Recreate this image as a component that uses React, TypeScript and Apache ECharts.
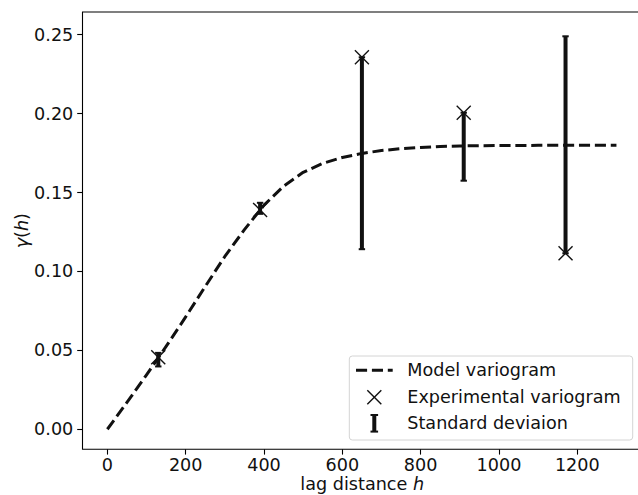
import React, { useEffect, useRef } from "react";
import * as echarts from "echarts";

const modelLag = [0, 50, 100, 150, 200, 250, 300, 350, 400, 450, 500, 550, 600, 650, 700, 750, 800, 850, 900, 950, 1000, 1100, 1200, 1300];
const modelGamma = [0, 0.017, 0.0345, 0.0525, 0.0712, 0.0905, 0.1095, 0.1265, 0.142, 0.154, 0.1628, 0.1685, 0.1722, 0.1748, 0.1766, 0.1778, 0.1786, 0.1792, 0.1795, 0.1797, 0.1798, 0.1799, 0.18, 0.18];

const expLag = [130, 390, 650, 910, 1170];
const expGamma = [0.0456, 0.139, 0.2357, 0.2006, 0.1115];
const stdLow = [0.0398, 0.1365, 0.1141, 0.1575, 0.1115];
const stdHigh = [0.0484, 0.1435, 0.2357, 0.2006, 0.249];

const xTicks = [0, 200, 400, 600, 800, 1000, 1200];
const yTicks = [0, 0.05, 0.1, 0.15, 0.2, 0.25];

const FONT = "DejaVu Sans";
const INK = "#111";
const FS = 17.6;

export default function App() {
  const ref = useRef<HTMLDivElement>(null);
  useEffect(() => {
    if (!ref.current) return;
    const chart = echarts.init(ref.current, undefined, { renderer: "svg" });
    const modelData = modelLag.map((h, i) => [h, modelGamma[i]]);
    const expData = expLag.map((h, i) => [h, expGamma[i]]);
    const errData = expLag.map((h, i) => [h, stdLow[i], stdHigh[i]]);

    const lx = 349.3, ly = 356, lw = 283.4, lh = 84;
    const iconX = 374.3;
    const textX = 407.3;
    const rows = [370.3, 397.3, 423.3];

    chart.setOption({
      animation: false,
      grid: {
        left: 82.5,
        top: 12,
        right: -3.9,
        bottom: 45.7,
        containLabel: false,
        outerBoundsMode: "none",
        show: true,
        borderColor: "#000",
        borderWidth: 1.1,
        backgroundColor: "transparent",
      },
      xAxis: {
        type: "value",
        min: -63.5,
        max: 1365,
        axisLine: { show: false, onZero: false },
        splitLine: { show: false },
        axisTick: { show: true, customValues: xTicks, length: 5.3, lineStyle: { color: "#000", width: 1.1 } },
        axisLabel: {
          customValues: xTicks,
          fontFamily: FONT,
          fontSize: FS,
          color: INK,
          margin: 7,
          formatter: (v: number) => String(v),
        },
        name: "lag distance {i|h}",
        nameLocation: "middle",
        nameGap: 26,
        nameMoveOverlap: false,
        nameTextStyle: {
          fontFamily: FONT,
          fontSize: FS,
          color: INK,
          rich: { i: { fontFamily: FONT, fontSize: FS, fontStyle: "italic", color: INK } },
        },
      },
      yAxis: {
        type: "value",
        min: -0.0127,
        max: 0.2644,
        axisLine: { show: false, onZero: false },
        splitLine: { show: false },
        axisTick: { show: true, customValues: yTicks, length: 5.3, lineStyle: { color: "#000", width: 1.1 } },
        axisLabel: {
          customValues: yTicks,
          fontFamily: FONT,
          fontSize: FS,
          color: INK,
          margin: 9.2,
          formatter: (v: number) => v.toFixed(2),
        },
        name: "{i|γ}({i|h})",
        nameLocation: "middle",
        nameRotate: 90,
        nameGap: 52,
        nameMoveOverlap: false,
        nameTextStyle: {
          fontFamily: FONT,
          fontSize: FS,
          color: INK,
          rich: { i: { fontFamily: FONT, fontSize: FS, fontStyle: "italic", color: INK } },
        },
      },
      series: [
        {
          name: "Model variogram",
          type: "line",
          data: modelData,
          showSymbol: false,
          smooth: false,
          lineStyle: { color: INK, width: 3, type: [11.1, 4.8], cap: "butt", join: "round" },
          z: 2,
        },
        {
          name: "Standard deviaion",
          type: "custom",
          data: errData,
          encode: { x: 0, y: [1, 2] },
          z: 3,
          renderItem: (params: any, api: any) => {
            const x = api.value(0);
            const p1 = api.coord([x, api.value(1)]);
            const p2 = api.coord([x, api.value(2)]);
            const c = 3.2;
            return {
              type: "group",
              children: [
                { type: "line", shape: { x1: p1[0], y1: p1[1], x2: p2[0], y2: p2[1] }, style: { stroke: INK, lineWidth: 4 } },
                { type: "line", shape: { x1: p1[0] - c, y1: p1[1], x2: p1[0] + c, y2: p1[1] }, style: { stroke: INK, lineWidth: 2 } },
                { type: "line", shape: { x1: p2[0] - c, y1: p2[1], x2: p2[0] + c, y2: p2[1] }, style: { stroke: INK, lineWidth: 2 } },
              ],
            };
          },
        },
        {
          name: "Experimental variogram",
          type: "custom",
          data: expData,
          encode: { x: 0, y: 1 },
          z: 4,
          renderItem: (params: any, api: any) => {
            const p = api.coord([api.value(0), api.value(1)]);
            const s = 7;
            return {
              type: "group",
              children: [
                { type: "line", shape: { x1: p[0] - s, y1: p[1] - s, x2: p[0] + s, y2: p[1] + s }, style: { stroke: INK, lineWidth: 1.4 } },
                { type: "line", shape: { x1: p[0] - s, y1: p[1] + s, x2: p[0] + s, y2: p[1] - s }, style: { stroke: INK, lineWidth: 1.4 } },
              ],
            };
          },
        },
      ],
      graphic: [
        {
          type: "rect",
          shape: { x: lx, y: ly, width: lw, height: lh, r: 3 },
          style: { fill: "rgba(255,255,255,0.8)", stroke: "#d4d4d4", lineWidth: 1 },
          z: 10,
        },
        {
          type: "line",
          shape: { x1: 356, y1: rows[0], x2: 392.7, y2: rows[0] },
          style: { stroke: INK, lineWidth: 3, lineDash: [11.1, 4.8] },
          z: 11,
        },
        {
          type: "line",
          shape: { x1: iconX - 7, y1: rows[1] - 7, x2: iconX + 7, y2: rows[1] + 7 },
          style: { stroke: INK, lineWidth: 1.4 },
          z: 11,
        },
        {
          type: "line",
          shape: { x1: iconX - 7, y1: rows[1] + 7, x2: iconX + 7, y2: rows[1] - 7 },
          style: { stroke: INK, lineWidth: 1.4 },
          z: 11,
        },
        {
          type: "line",
          shape: { x1: iconX, y1: rows[2] - 8.3, x2: iconX, y2: rows[2] + 8.3 },
          style: { stroke: INK, lineWidth: 4 },
          z: 11,
        },
        {
          type: "line",
          shape: { x1: iconX - 3.8, y1: rows[2] - 8.3, x2: iconX + 3.8, y2: rows[2] - 8.3 },
          style: { stroke: INK, lineWidth: 2 },
          z: 11,
        },
        {
          type: "line",
          shape: { x1: iconX - 3.8, y1: rows[2] + 8.3, x2: iconX + 3.8, y2: rows[2] + 8.3 },
          style: { stroke: INK, lineWidth: 2 },
          z: 11,
        },
        ...["Model variogram", "Experimental variogram", "Standard deviaion"].map((t, i) => ({
          type: "text",
          x: textX,
          y: rows[i],
          style: { text: t, fontFamily: FONT, fontSize: FS, fill: INK, verticalAlign: "middle", align: "left" },
          z: 11,
        })),
      ],
    });
    return () => chart.dispose();
  }, []);
  return <div ref={ref} style={{ position: "absolute", left: 0, top: 0, width: 638, height: 495 }} />;
}
